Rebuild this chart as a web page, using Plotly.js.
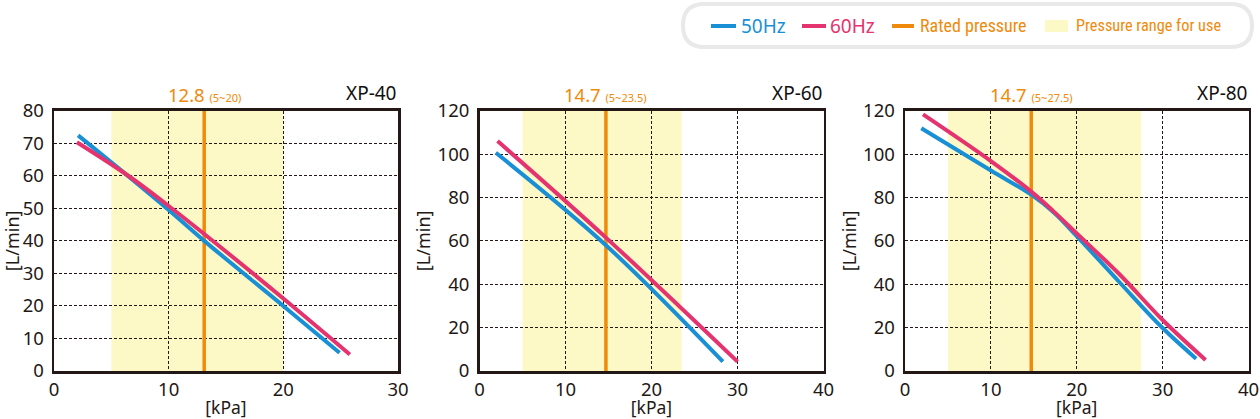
<!DOCTYPE html>
<html><head><meta charset="utf-8">
<script src="https://cdn.plot.ly/plotly-3.0.1.min.js"></script>
<style>html,body{margin:0;padding:0;background:#fff}#chart{width:1260px;height:419px}</style>
</head><body><div id="chart"></div>
<script>
// ---------- data ----------
const models = ['XP-40', 'XP-60', 'XP-80'];
const ratedLabels = ['12.8', '14.7', '14.7'];
const rangeLabels = ['(5~20)', '(5~23.5)', '(5~27.5)'];
const ratedLinePos = [13.1, 14.7, 14.7];
const useRangeMin = [5, 5, 5];
const useRangeMax = [20, 23.5, 27.5];
const xMax = [30, 40, 40];
const yMax = [80, 120, 120];
const xStep = [10, 10, 10];
const yStep = [10, 20, 20];
const xTitle = '[kPa]';
const yTitle = '[L/min]';

const xp40_50_x = [2.1, 6.6, 10, 13.1, 20, 24.9];
const xp40_50_y = [72.4, 59.5, 49.5, 40.0, 20.0, 5.6];
const xp40_60_x = [2.0, 6.6, 10, 13.1, 20, 25.8];
const xp40_60_y = [70.3, 59.7, 50.7, 42.1, 22.3, 5.1];

const xp60_50_x = [1.9, 14.7, 28.3];
const xp60_50_y = [100.6, 58.0, 4.3];
const xp60_60_x = [2.1, 14.7, 30.0];
const xp60_60_y = [106.0, 61.5, 4.3];

const xp80_50_x = [1.9, 10, 14.7, 17.3, 20, 25, 30, 33.9];
const xp80_50_y = [111.9, 92.4, 81.3, 73.2, 62.2, 40.8, 19.8, 5.7];
const xp80_60_x = [2.1, 10, 14.7, 17.3, 20, 25, 30, 35.0];
const xp80_60_y = [118.3, 96.8, 82.7, 73.6, 63.4, 44.5, 23.5, 5.1];

const seriesNames = ['50Hz', '60Hz', 'Rated pressure', 'Pressure range for use'];

const curves50 = [[xp40_50_x, xp40_50_y], [xp60_50_x, xp60_50_y], [xp80_50_x, xp80_50_y]];
const curves60 = [[xp40_60_x, xp40_60_y], [xp60_60_x, xp60_60_y], [xp80_60_x, xp80_60_y]];

// ---------- styles ----------
const BLUE = '#1990d5', PINK = '#e5336f', ORANGE = '#f08a0a', YELLOW = '#fdf9c6', INK = '#231815';
const FONT = 'Noto Sans, sans-serif';
const NARROW = 'Liberation Sans Narrow, Roboto Condensed, Noto Sans, sans-serif';
const W = 1260, H = 419;
const px = v => v / W, py = v => 1 - v / H;

const xDom = [[54, 398], [479.5, 823.5], [905, 1248.5]];
const yDom = [py(371), py(110.7)];

const traces = [];
const layout = {
  width: W, height: H, margin: {l: 0, r: 0, t: 0, b: 0},
  paper_bgcolor: '#fff', plot_bgcolor: 'rgba(0,0,0,0)',
  showlegend: false, font: {family: FONT, color: INK, size: 18},
  shapes: [], annotations: []
};

for (let i = 0; i < 3; i++) {
  const s = i === 0 ? '' : String(i + 1);
  const xa = 'x' + s, ya = 'y' + s;
  const axCommon = {
    showline: true, mirror: true, linecolor: INK, linewidth: 2.5,
    showgrid: true, gridcolor: INK, gridwidth: 1.1, griddash: '3px,2px',
    zeroline: false, ticks: '', fixedrange: true,
    tickfont: {family: FONT, size: 18.5, color: INK}
  };
  layout['xaxis' + s] = Object.assign({}, axCommon, {
    domain: [px(xDom[i][0]), px(xDom[i][1])], anchor: ya,
    range: [0, xMax[i]], dtick: xStep[i], tick0: 0,
    ticklabelstandoff: 0,
    title: {text: xTitle, font: {family: FONT, size: 17.5, color: INK}, standoff: 5}
  });
  layout['yaxis' + s] = Object.assign({}, axCommon, {
    domain: yDom, anchor: xa,
    range: [0, yMax[i]], dtick: yStep[i], tick0: 0,
    ticklabelstandoff: 4,
    title: {text: yTitle, font: {family: FONT, size: 18, color: INK}, standoff: 2}
  });
  // pressure range for use (band)
  layout.shapes.push({type: 'rect', xref: xa, yref: ya + ' domain', x0: useRangeMin[i], x1: useRangeMax[i], y0: 0, y1: 1,
    fillcolor: YELLOW, line: {width: 0}, layer: 'below'});
  // rated pressure line
  traces.push({x: [ratedLinePos[i], ratedLinePos[i]], y: [0, yMax[i]], xaxis: xa, yaxis: ya, mode: 'lines',
    line: {color: ORANGE, width: 3.5}, name: seriesNames[2], hoverinfo: 'skip'});
  traces.push({x: curves50[i][0], y: curves50[i][1], xaxis: xa, yaxis: ya, mode: 'lines',
    line: {color: BLUE, width: 4, shape: 'spline', smoothing: 1}, name: seriesNames[0]});
  traces.push({x: curves60[i][0], y: curves60[i][1], xaxis: xa, yaxis: ya, mode: 'lines',
    line: {color: PINK, width: 4, shape: 'spline', smoothing: 1}, name: seriesNames[1]});
  // model name
  layout.annotations.push({xref: xa + ' domain', yref: 'paper', x: 1, y: py(93), xanchor: 'right', yanchor: 'middle',
    showarrow: false, text: models[i], font: {family: FONT, size: 19, color: '#111'}});
  // rated label
  layout.annotations.push({xref: xa, yref: 'paper', x: ratedLinePos[i], y: py(95), xanchor: 'center', yanchor: 'middle',
    showarrow: false, text: ratedLabels[i] + ' <span style="font-size:11px">' + rangeLabels[i] + '</span>',
    font: {family: FONT, size: 18.5, color: ORANGE}});
}

// ---------- legend (manual) ----------
const L = 683, R = 1252, T = 4, B = 47, rad = 21.5;
const path = `M ${px(L + rad)} ${py(T)} L ${px(R - rad)} ${py(T)} Q ${px(R)} ${py(T)} ${px(R)} ${py(T + rad)} ` +
  `L ${px(R)} ${py(B - rad)} Q ${px(R)} ${py(B)} ${px(R - rad)} ${py(B)} L ${px(L + rad)} ${py(B)} ` +
  `Q ${px(L)} ${py(B)} ${px(L)} ${py(B - rad)} L ${px(L)} ${py(T + rad)} Q ${px(L)} ${py(T)} ${px(L + rad)} ${py(T)} Z`;
layout.shapes.push({type: 'path', xref: 'paper', yref: 'paper', path: path, fillcolor: '#fff', line: {color: '#e9e9e9', width: 4}});
const ly = 26;
layout.shapes.push({type: 'line', xref: 'paper', yref: 'paper', x0: px(711), x1: px(736), y0: py(ly), y1: py(ly), line: {color: BLUE, width: 4}});
layout.shapes.push({type: 'line', xref: 'paper', yref: 'paper', x0: px(802), x1: px(826), y0: py(ly), y1: py(ly), line: {color: PINK, width: 4}});
layout.shapes.push({type: 'line', xref: 'paper', yref: 'paper', x0: px(892), x1: px(914), y0: py(ly), y1: py(ly), line: {color: ORANGE, width: 4}});
layout.shapes.push({type: 'rect', xref: 'paper', yref: 'paper', x0: px(1045), x1: px(1068), y0: py(20), y1: py(32), fillcolor: YELLOW, line: {width: 0}});
const legText = [
  {x: 739, t: seriesNames[0], c: BLUE, f: FONT, s: 19},
  {x: 828, t: seriesNames[1], c: PINK, f: FONT, s: 19},
  {x: 918, t: seriesNames[2], c: ORANGE, f: NARROW, s: 18},
  {x: 1074, t: seriesNames[3], c: ORANGE, f: NARROW, s: 16.3}
];
legText.forEach(o => layout.annotations.push({xref: 'paper', yref: 'paper', x: px(o.x), y: py(ly), xanchor: 'left', yanchor: 'middle',
  showarrow: false, text: o.t, font: {family: o.f, size: o.s, color: o.c}}));

Plotly.newPlot('chart', traces, layout, {staticPlot: true});
</script></body></html>
